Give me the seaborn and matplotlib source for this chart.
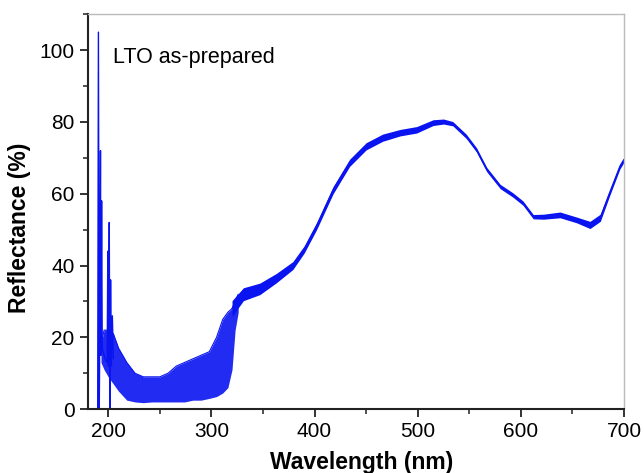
import numpy as np
import pandas as pd
import seaborn as sns
import matplotlib
matplotlib.use("Agg")
import matplotlib.pyplot as plt
from matplotlib.ticker import MultipleLocator

# ---- data ----
# sharp spikes at the start of the scan
spike_wl = [189.8, 190.5, 191.3, 191.8, 192.5, 193.0, 193.6, 194.2, 197.0, 199.0, 199.6, 200.2, 201.0, 201.6, 202.3, 203.0, 204.0, 205.0]
spike_r = [0, 105, 0, 20, 72, 15, 58, 17, 14, 13, 44, 12, 52, 0, 36, 12, 26, 14]

# noisy low-reflectance region: lower / upper envelope of the noise
band_wl = [193, 196, 200, 205, 210, 218, 226, 234, 242, 250, 258, 266, 274, 282, 290, 298, 305, 311, 316, 320, 323, 326]
band_lo = [13, 11, 9, 7, 5, 2.5, 2, 1.8, 2, 2, 2, 2, 2, 2.5, 2.5, 3, 3.5, 4.5, 6, 11, 22, 27]
band_hi = [18, 22, 22, 21, 17, 13, 10, 9, 9, 9, 10, 12, 13, 14, 15, 16, 20, 25, 27, 28, 30, 32]

# smoother part of the spectrum (centre line and noise half-width)
main_wl = [320, 331, 347, 363, 379, 390, 402, 418, 434, 450, 466, 483, 499, 515, 525, 534, 547, 557, 567, 580, 592, 602, 612, 622, 638, 654, 667, 677, 686, 696, 700]
main_r = [28, 32, 33.5, 36.5, 40, 44.5, 51, 61, 68.6, 73.2, 75.6, 77, 77.8, 79.8, 80.1, 79.5, 76, 72.2, 66.7, 62, 59.7, 57.4, 53.6, 53.6, 54.1, 52.7, 51.3, 53.3, 60.2, 67.6, 69.5]
main_noise = [2.2, 1.8, 1.6, 1.3, 1.1, 1.0, 1.0, 1.0, 1.0, 1.0, 1.0, 0.9, 0.9, 0.8, 0.7, 0.6, 0.6, 0.6, 0.6, 0.6, 0.6, 0.6, 0.6, 0.7, 0.8, 0.8, 1.0, 1.0, 0.8, 0.7, 0.7]

x_ticks = [200, 300, 400, 500, 600, 700]
y_ticks = [0, 20, 40, 60, 80, 100]

BLUE = "#0a14f0"

sns.set_style("ticks")
plt.rcParams["font.family"] = ["Liberation Sans", "DejaVu Sans"]
plt.rcParams["text.color"] = "black"
plt.rcParams["axes.labelcolor"] = "black"

fig = plt.figure(figsize=(6.44, 4.73), dpi=100)
ax = fig.add_axes([0.136, 0.135, 0.833, 0.835])

# noise envelopes
ax.fill_between(band_wl, band_lo, band_hi, color=BLUE, lw=0, alpha=0.9)
mw = np.array(main_wl); mr = np.array(main_r); mn = np.array(main_noise)
ax.fill_between(mw, mr - mn, mr + mn, color=BLUE, lw=0)

df_spike = pd.DataFrame({"wl": spike_wl, "r": spike_r})
sns.lineplot(data=df_spike, x="wl", y="r", sort=False, estimator=None, color=BLUE, lw=1.0, ax=ax)
df_main = pd.DataFrame({"wl": main_wl, "r": main_r})
sns.lineplot(data=df_main, x="wl", y="r", sort=False, estimator=None, color=BLUE, lw=1.0, ax=ax)
df_hi = pd.DataFrame({"wl": band_wl, "r": band_hi})
sns.lineplot(data=df_hi, x="wl", y="r", sort=False, estimator=None, color=BLUE, lw=0.8, ax=ax)

ax.set_xlim(180, 700)
ax.set_ylim(0, 110)
ax.set_xticks(x_ticks)
ax.set_yticks(y_ticks)
ax.xaxis.set_minor_locator(MultipleLocator(50))
ax.yaxis.set_minor_locator(MultipleLocator(10))
ax.tick_params(axis="both", which="major", direction="out", length=6, width=1.3, labelsize=15, colors="#222222", labelcolor="black")
ax.tick_params(axis="both", which="minor", direction="out", length=3.5, width=1.1, colors="#222222")

for s in ["left", "bottom"]:
    ax.spines[s].set_color("#222222")
    ax.spines[s].set_linewidth(1.5)
for s in ["top", "right"]:
    ax.spines[s].set_color("#bbbbbb")
    ax.spines[s].set_linewidth(1.0)
    ax.spines[s].set_visible(True)

ax.set_xlabel("Wavelength (nm)", fontsize=16.5, fontweight="bold", color="black")
ax.set_ylabel("Reflectance (%)", fontsize=16.5, fontweight="bold", color="black")
ax.xaxis.set_label_coords(0.51, -0.105)
ax.yaxis.set_label_coords(-0.105, 0.46)
ax.text(205, 98, "LTO as-prepared", fontsize=15.5, va="center", ha="left", color="black")

fig.savefig("out.png", dpi=100)
